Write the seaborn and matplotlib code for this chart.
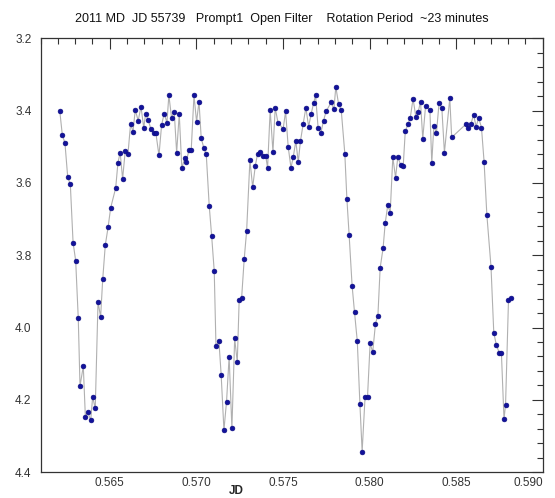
import numpy as np
import pandas as pd
import matplotlib
matplotlib.use("Agg")
import matplotlib.pyplot as plt
from matplotlib.ticker import MultipleLocator, FormatStrFormatter
import seaborn as sns

title = "2011 MD  JD 55739   Prompt1  Open Filter    Rotation Period  ~23 minutes"
x_label = "JD"

jd = [0.56211, 0.56226, 0.56241, 0.56257, 0.56272, 0.56288, 0.56303, 0.56318, 0.56328, 0.56347,
      0.56359, 0.56372, 0.56390, 0.56401, 0.56416, 0.56432, 0.56447, 0.56459, 0.56474, 0.56490,
      0.56505, 0.56534, 0.56547, 0.56560, 0.56574, 0.56589, 0.56605, 0.56620, 0.56634, 0.56647,
      0.56664, 0.56680, 0.56696, 0.56707, 0.56722, 0.56738, 0.56753, 0.56766, 0.56784, 0.56799,
      0.56814, 0.56830, 0.56841, 0.56857, 0.56872, 0.56886, 0.56901, 0.56916, 0.56932, 0.56941,
      0.56957, 0.56970, 0.56986, 0.57001, 0.57015, 0.57028, 0.57043, 0.57057, 0.57074, 0.57088,
      0.57103, 0.57113, 0.57130, 0.57143, 0.57159, 0.57174, 0.57189, 0.57205, 0.57221, 0.57236,
      0.57247, 0.57261, 0.57276, 0.57290, 0.57309, 0.57325, 0.57340, 0.57353, 0.57368, 0.57384,
      0.57400, 0.57411, 0.57426, 0.57442, 0.57455, 0.57471, 0.57501, 0.57515, 0.57530, 0.57546,
      0.57559, 0.57574, 0.57588, 0.57601, 0.57616, 0.57632, 0.57648, 0.57663, 0.57677, 0.57688,
      0.57703, 0.57719, 0.57734, 0.57749, 0.57778, 0.57794, 0.57805, 0.57821, 0.57836, 0.57857,
      0.57869, 0.57882, 0.57899, 0.57913, 0.57929, 0.57944, 0.57957, 0.57974, 0.57988, 0.58003,
      0.58018, 0.58034, 0.58048, 0.58061, 0.58078, 0.58090, 0.58105, 0.58119, 0.58134, 0.58150,
      0.58163, 0.58179, 0.58194, 0.58206, 0.58222, 0.58235, 0.58251, 0.58267, 0.58280, 0.58294,
      0.58307, 0.58323, 0.58348, 0.58359, 0.58371, 0.58386, 0.58401, 0.58417, 0.58432, 0.58463,
      0.58474, 0.58555, 0.58571, 0.58586, 0.58600, 0.58615, 0.58630, 0.58646, 0.58661, 0.58677,
      0.58701, 0.58717, 0.58732, 0.58749, 0.58761, 0.58776, 0.58785, 0.58802, 0.58815]

mag = [3.400, 3.468, 3.489, 3.584, 3.603, 3.765, 3.815, 3.975, 4.162, 4.107,
       4.247, 4.234, 4.256, 4.192, 4.224, 3.929, 3.971, 3.867, 3.772, 3.723,
       3.669, 3.614, 3.544, 3.516, 3.589, 3.512, 3.519, 3.437, 3.458, 3.398,
       3.428, 3.389, 3.447, 3.409, 3.426, 3.452, 3.462, 3.462, 3.524, 3.440,
       3.408, 3.433, 3.357, 3.421, 3.403, 3.516, 3.409, 3.560, 3.532, 3.543,
       3.509, 3.510, 3.358, 3.431, 3.375, 3.477, 3.503, 3.521, 3.663, 3.746,
       3.844, 4.051, 4.037, 4.131, 4.284, 4.205, 4.081, 4.279, 4.030, 4.096,
       3.924, 3.919, 3.811, 3.733, 3.537, 3.612, 3.553, 3.520, 3.514, 3.525,
       3.525, 3.558, 3.398, 3.514, 3.392, 3.433, 3.450, 3.402, 3.500, 3.558,
       3.529, 3.484, 3.542, 3.484, 3.438, 3.392, 3.444, 3.408, 3.379, 3.358,
       3.449, 3.461, 3.428, 3.402, 3.377, 3.396, 3.334, 3.382, 3.397, 3.519,
       3.645, 3.745, 3.884, 3.958, 4.038, 4.211, 4.343, 4.191, 4.192, 4.044,
       4.068, 3.989, 3.967, 3.835, 3.780, 3.712, 3.661, 3.682, 3.529, 3.585,
       3.528, 3.550, 3.554, 3.457, 3.438, 3.419, 3.367, 3.417, 3.405, 3.375,
       3.478, 3.388, 3.397, 3.545, 3.442, 3.462, 3.379, 3.392, 3.516, 3.366,
       3.474, 3.438, 3.447, 3.436, 3.411, 3.444, 3.420, 3.447, 3.541, 3.688,
       3.832, 4.014, 4.049, 4.070, 4.070, 4.253, 4.214, 3.924, 3.919]

x_ticks = [0.565, 0.570, 0.575, 0.580, 0.585, 0.590]
y_ticks = [3.2, 3.4, 3.6, 3.8, 4.0, 4.2, 4.4]

df = pd.DataFrame({"JD": jd, "mag": mag})

sns.set_style("white")
plt.rcParams["font.family"] = ["Liberation Sans", "DejaVu Sans"]

fig = plt.figure(figsize=(5.55, 4.98), dpi=100)
ax = fig.add_axes([0.073, 0.052, 0.905, 0.871])

sns.lineplot(data=df, x="JD", y="mag", sort=False, estimator=None, ax=ax,
             color="#b0b0b0", linewidth=0.8, zorder=2)
sns.scatterplot(data=df, x="JD", y="mag", ax=ax, color="#12129a", s=12,
                edgecolor="#0a0a80", linewidth=0.4, zorder=3)

ax.set_xlim(0.561, 0.590)
ax.set_ylim(4.4, 3.2)
ax.set_xticks(x_ticks)
ax.set_yticks(y_ticks)
ax.xaxis.set_major_formatter(FormatStrFormatter("%.3f"))
ax.yaxis.set_major_formatter(FormatStrFormatter("%.1f"))
ax.xaxis.set_minor_locator(MultipleLocator(0.001))
ax.yaxis.set_minor_locator(MultipleLocator(0.04))

ax.tick_params(which="both", direction="in", top=True, right=True,
               color="#333333", width=0.8, labelsize=8.5, labelcolor="#333333")
ax.tick_params(which="major", length=8)
ax.tick_params(which="minor", length=4.5)
ax.tick_params(axis="x", pad=3.5)
ax.tick_params(axis="y", pad=6.5)

for s in ax.spines.values():
    s.set_color("#333333")
    s.set_linewidth(0.9)

ax.set_xlabel(x_label, fontsize=8.5, fontweight="bold")
ax.xaxis.label.set_va("center")
ax.xaxis.set_label_coords(0.39, -0.044)
ax.set_ylabel("")
fig.text(0.507, 0.962, title, ha="center", va="center", fontsize=9, color="#111111")

fig.canvas.draw()
ax.get_xticklabels()[-1].set_horizontalalignment("right")

fig.savefig("out.png", dpi=100)
